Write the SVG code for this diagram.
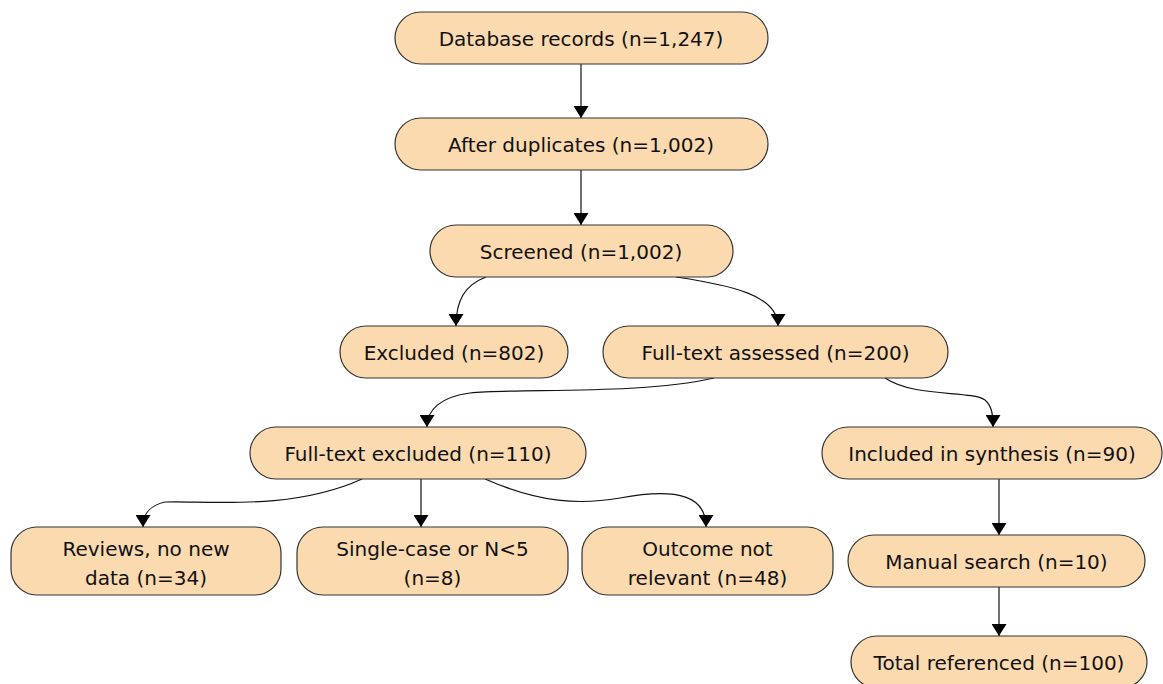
<svg xmlns="http://www.w3.org/2000/svg" width="1163" height="684" viewBox="0 0 1163 684">
<style>
.n rect{fill:#FCDAB0;stroke:#333;stroke-width:1.2}
.n text{font-family:"DejaVu Sans",sans-serif;font-size:20px;fill:#111;text-anchor:middle}
.c path{fill:none;stroke:#111;stroke-width:1.2;marker-end:url(#ah)}
</style>
<defs>
<marker id="ah" viewBox="0 0 12 15" refX="12" refY="7.5" markerWidth="12" markerHeight="15" markerUnits="userSpaceOnUse" orient="auto">
<path d="M0,0 L12,7.5 L0,15 Z" fill="#000"/>
</marker>
</defs>
<rect width="1163" height="684" fill="#fff"/>
<g class="c" id="connectors">
<path d="M581,64 L581,118"/>
<path d="M581,170 L581,225"/>
<path d="M486,277 C465,285 456,300 456,326"/>
<path d="M676,277 C730,285 778,295 778,326"/>
<path d="M714,378 C640,395 520,388 470,393 C440,397 427,410 427,427"/>
<path d="M885,378 C915,398 970,390 985,400 C992,406 993,415 993,427"/>
<path d="M362,479 C290,512 200,500 165,502 C148,506 143,515 143,527"/>
<path d="M421,479 L421,527"/>
<path d="M485,479 C540,503 580,505 620,498 C680,487 706,497 706,527"/>
<path d="M999,479 L999,535"/>
<path d="M999,587 L999,636"/>
</g>
<g class="n" id="n1"><rect x="395" y="12" width="373" height="52" rx="26"/><text x="581" y="45.5">Database records (n=1,247)</text></g>
<g class="n" id="n2"><rect x="395" y="118" width="373" height="52" rx="26"/><text x="581" y="151.5">After duplicates (n=1,002)</text></g>
<g class="n" id="n3"><rect x="430" y="225" width="303" height="52" rx="26"/><text x="581" y="258.5">Screened (n=1,002)</text></g>
<g class="n" id="n4"><rect x="340" y="326" width="228" height="52" rx="26"/><text x="454" y="359.5">Excluded (n=802)</text></g>
<g class="n" id="n5"><rect x="603" y="326" width="345" height="52" rx="26"/><text x="775.5" y="359.5">Full-text assessed (n=200)</text></g>
<g class="n" id="n6"><rect x="250" y="427" width="336" height="52" rx="26"/><text x="418" y="460.5">Full-text excluded (n=110)</text></g>
<g class="n" id="n7"><rect x="822" y="427" width="340" height="52" rx="26"/><text x="992" y="460.5">Included in synthesis (n=90)</text></g>
<g class="n" id="n8"><rect x="11" y="527" width="270" height="68" rx="26"/><text x="146" y="555.5">Reviews, no new</text><text x="146" y="584.5">data (n=34)</text></g>
<g class="n" id="n9"><rect x="297" y="527" width="271" height="68" rx="26"/><text x="432.5" y="555.5">Single-case or N&lt;5</text><text x="432.5" y="584.5">(n=8)</text></g>
<g class="n" id="n10"><rect x="582" y="527" width="251" height="68" rx="26"/><text x="707.5" y="555.5">Outcome not</text><text x="707.5" y="584.5">relevant (n=48)</text></g>
<g class="n" id="n11"><rect x="848" y="535" width="297" height="52" rx="26"/><text x="996.5" y="568.5">Manual search (n=10)</text></g>
<g class="n" id="n12"><rect x="851" y="636" width="296" height="52" rx="26"/><text x="999" y="669.5">Total referenced (n=100)</text></g>
</svg>
